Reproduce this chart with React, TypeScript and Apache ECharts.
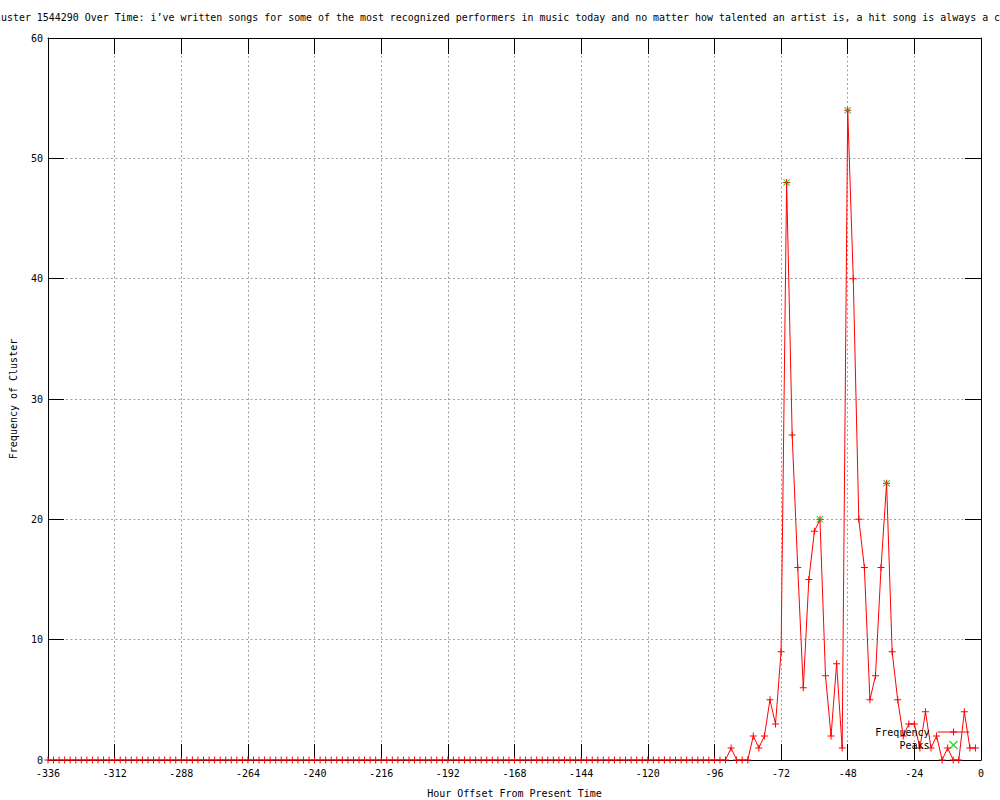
import React, { useEffect, useRef } from "react";
import * as echarts from "echarts";

const TITLE =
  "Cluster 1544290 Over Time: i’ve written songs for some of the most recognized performers in music today and no matter how talented an artist is, a hit song is always a c";
const X_NAME = "Hour Offset From Present Time";
const Y_NAME = "Frequency of Cluster";
const SERIES_FREQ = "Frequency";
const SERIES_PEAKS = "Peaks";

// First hour offset and spacing (hours) of the frequency samples
const START_HOUR = -336;
const STEP_HOURS = 2;

// Frequency values for hours -336, -334, ..., -2
const freqValues: number[] = [
  0, 0, 0, 0, 0, 0, 0, 0, 0, 0, 0, 0, 0, 0, 0, 0, 0, 0, 0, 0,
  0, 0, 0, 0, 0, 0, 0, 0, 0, 0, 0, 0, 0, 0, 0, 0, 0, 0, 0, 0,
  0, 0, 0, 0, 0, 0, 0, 0, 0, 0, 0, 0, 0, 0, 0, 0, 0, 0, 0, 0,
  0, 0, 0, 0, 0, 0, 0, 0, 0, 0, 0, 0, 0, 0, 0, 0, 0, 0, 0, 0,
  0, 0, 0, 0, 0, 0, 0, 0, 0, 0, 0, 0, 0, 0, 0, 0, 0, 0, 0, 0,
  0, 0, 0, 0, 0, 0, 0, 0, 0, 0, 0, 0, 0, 0, 0, 0, 0, 0, 0, 0,
  0, 0, 0,
  // -90 ... -2
  1, 0, 0, 0, 2, 1, 2, 5, 3, 9,
  48, 27, 16, 6, 15, 19, 20, 7, 2, 8,
  1, 54, 40, 20, 16, 5, 7, 16, 23, 9,
  5, 2, 3, 3, 1, 4, 1, 2, 0, 1,
  0, 0, 4, 1, 1,
];

const peakHours: number[] = [-70, -58, -48, -34];
const peakValues: number[] = [48, 20, 54, 23];

const X_MIN = -336;
const X_MAX = 0;
const X_INTERVAL = 24;
const Y_MIN = 0;
const Y_MAX = 60;
const Y_INTERVAL = 10;

const FONT = "DejaVu Sans Mono";
const PLUS = "path://M0,3 H7 V4 H0 Z M3,0 H4 V7 H3 Z";
const CROSS =
  "path://M0,0.7 L0.7,0 L7,6.3 L6.3,7 Z M6.3,0 L7,0.7 L0.7,7 L0,6.3 Z";

export default function App() {
  const ref = useRef<HTMLDivElement>(null);

  useEffect(() => {
    if (!ref.current) return;
    const chart = echarts.init(ref.current, undefined, { renderer: "svg" });

    const freqData = freqValues.map((v, i) => [START_HOUR + i * STEP_HOURS, v]);
    const peakData = peakHours.map((h, i) => [h, peakValues[i]]);

    const gridLine = { color: "#a0a0a0", width: 1, type: [2, 2.5] as number[] };
    const axisLine = { show: true, onZero: false, lineStyle: { color: "#000", width: 1 } };
    const tick = { show: true, inside: true, length: 16, lineStyle: { color: "#000", width: 1 } };
    const labelStyle = { color: "#000", fontFamily: FONT, fontSize: 10 };

    chart.setOption({
      animation: false,
      backgroundColor: "#fff",
      title: {
        text: TITLE,
        left: -11,
        top: 12,
        padding: 0,
        textStyle: { fontFamily: FONT, fontSize: 9.95, fontWeight: "normal", color: "#000" },
      },
      grid: {
        left: 48,
        right: 19,
        top: 38,
        bottom: 40,
        containLabel: false,
        outerBoundsMode: "none",
      },
      legend: {
        data: [SERIES_FREQ, SERIES_PEAKS],
        orient: "vertical",
        align: "right",
        right: 30,
        top: 727,
        itemWidth: 32,
        itemHeight: 9,
        itemGap: 3,
        padding: 0,
        selectedMode: false,
        lineStyle: { width: 1 },
        textStyle: { fontFamily: FONT, fontSize: 10, color: "#000", padding: [0, 3, 0, 0] },
      },
      xAxis: [
        {
          type: "value",
          min: X_MIN,
          max: X_MAX,
          interval: X_INTERVAL,
          position: "bottom",
          name: X_NAME,
          nameLocation: "middle",
          nameGap: 28,
          nameTextStyle: labelStyle,
          axisLine,
          axisTick: tick,
          axisLabel: { ...labelStyle, margin: 8 },
          splitLine: { show: true, lineStyle: gridLine },
        },
        {
          type: "value",
          min: X_MIN,
          max: X_MAX,
          interval: X_INTERVAL,
          position: "top",
          axisLine,
          axisTick: tick,
          axisLabel: { show: false },
          splitLine: { show: false },
        },
      ],
      yAxis: [
        {
          type: "value",
          min: Y_MIN,
          max: Y_MAX,
          interval: Y_INTERVAL,
          position: "left",
          name: Y_NAME,
          nameLocation: "middle",
          nameGap: 30,
          nameRotate: 90,
          nameTextStyle: labelStyle,
          axisLine,
          axisTick: tick,
          axisLabel: { ...labelStyle, margin: 5 },
          splitLine: { show: true, lineStyle: gridLine },
        },
        {
          type: "value",
          min: Y_MIN,
          max: Y_MAX,
          interval: Y_INTERVAL,
          position: "right",
          axisLine,
          axisTick: tick,
          axisLabel: { show: false },
          splitLine: { show: false },
        },
      ],
      series: [
        {
          name: SERIES_FREQ,
          type: "line",
          data: freqData,
          symbol: PLUS,
          symbolSize: 7,
          showSymbol: true,
          showAllSymbol: true,
          lineStyle: { color: "#ff0000", width: 1 },
          itemStyle: { color: "#ff0000" },
          emphasis: { disabled: true },
          z: 3,
        },
        {
          name: SERIES_PEAKS,
          type: "scatter",
          data: peakData,
          symbol: CROSS,
          symbolSize: 7,
          itemStyle: { color: "#00c000" },
          emphasis: { disabled: true },
          z: 4,
        },
      ],
    });

    return () => chart.dispose();
  }, []);

  return (
    <div
      ref={ref}
      style={{ position: "fixed", left: 0, top: 0, width: 1000, height: 800, background: "#fff" }}
    />
  );
}
